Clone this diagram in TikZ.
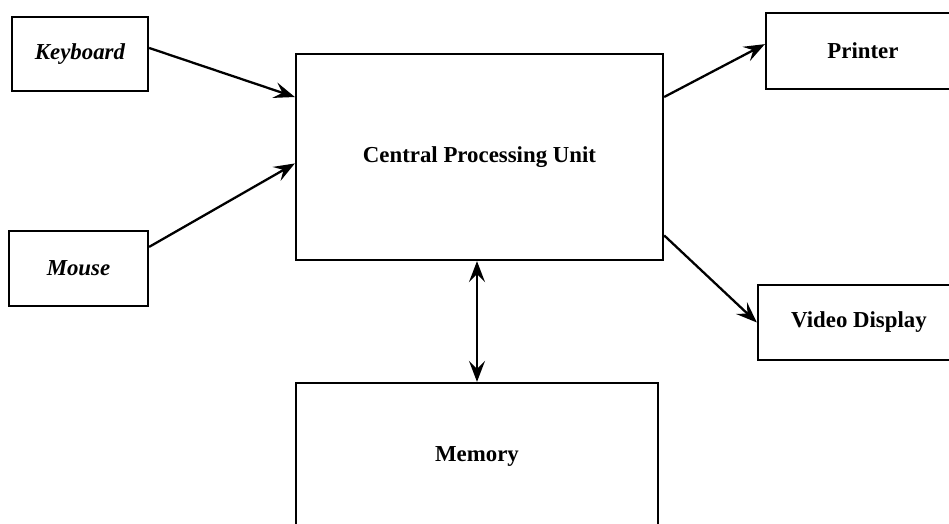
\documentclass[tikz,border=0pt]{standalone}
\usepackage{fontspec}
\setmainfont{Liberation Serif}
\usepackage{tikz}
\usetikzlibrary{arrows.meta}

\begin{document}
\begin{tikzpicture}[line width=1.3pt, >={Stealth[length=4.2mm,width=3.2mm,inset=1.6mm]},
                    every node/.style={rectangle, draw, inner sep=0pt,
                                       font=\fontsize{13}{15}\selectfont\bfseries}]
        \useasboundingbox (0,0) rectangle (18.98,-10.48);
        % Nodes
        \node[minimum width=2.72cm, minimum height=1.48cm] (kbd) at (1.60,-1.08) {\itshape Keyboard};
        \node[minimum width=2.78cm, minimum height=1.50cm] (mouse) at (1.57,-5.37) {\itshape Mouse};
        \node[minimum width=7.34cm, minimum height=4.12cm] (cpu) at (9.59,-3.14) {Central Processing Unit};
        \node[minimum width=3.88cm, minimum height=1.52cm] (prt) at (17.26,-1.02) {Printer};
        \node[minimum width=4.04cm, minimum height=1.50cm] (vid) at (17.18,-6.45) {Video Display};
        \node[minimum width=7.24cm, minimum height=2.94cm] (mem) at (9.54,-9.13) {Memory};
        % Edges
        \draw[->] (kbd.5) -- (cpu.162);
        \draw[->] (mouse.17) -- (cpu.182);
        \draw[->] (cpu.18) -- (prt.176);
        \draw[->] (cpu.-23.5) -- (vid.west);
        \draw[<->] (cpu.south -| mem.north) -- (mem.north);
    \end{tikzpicture}
\end{document}
